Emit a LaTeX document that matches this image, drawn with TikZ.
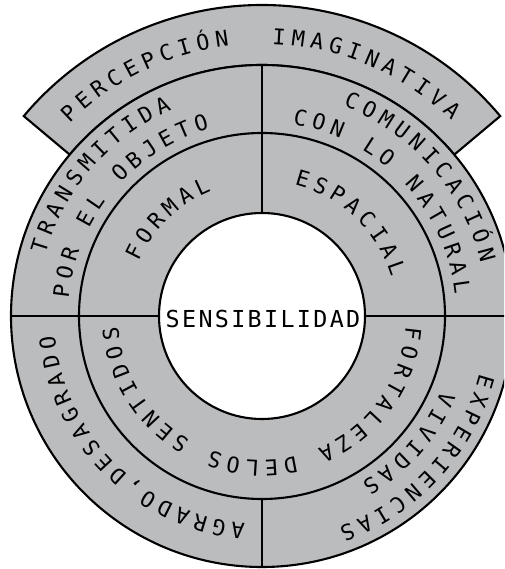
\documentclass[tikz,border=0pt]{standalone}
\usepackage{fontspec}
\newfontfamily\ringfont{DejaVu Sans Mono}
\newfontfamily\centrefont[LetterSpace=10]{DejaVu Sans Mono}
\usepackage{tikz}
\definecolor{ringgray}{HTML}{BBBCBE}

\tikzset{
  ring/.style={fill=ringgray,draw=black,line width=1.2pt},
  divider/.style={draw=black,line width=1.2pt},
  ringchar/.style={font=\ringfont\fontsize{12.4}{13}\selectfont,
                   inner sep=0pt,text height=9pt,text depth=0pt},
  centrelabel/.style={font=\centrefont\fontsize{13.3}{14}\selectfont,
                      inner sep=0pt,text height=9.7pt,text depth=0pt},
}

% letters set clockwise on a circle, tops outward, fixed pitch
\newcommand\ringtext[4]{%
  \pgfmathsetmacro\stepang{0.384/#2*180/pi}%
  \foreach \chr [count=\k from 0] in {#4}
    \node[ringchar,rotate={#3-\k*\stepang-90}] (#1-\k) at ({#3-\k*\stepang}:#2) {\chr};%
}

\begin{document}
\begin{tikzpicture}
  \useasboundingbox (-5.24,-5.06) rectangle (4.84,6.32);
  \fill[white] (-5.24,-5.06) rectangle (4.84,6.32);
  \clip (-5.24,-5.06) rectangle (4.84,6.32);
  % Outer band
  \draw[ring] (40:5.02) arc[start angle=40,end angle=140,radius=5.02]
    -- (140:6.22) arc[start angle=140,end angle=40,radius=6.22] -- cycle;
  % Rings
  \draw[ring] (0,0) circle[radius=5.02];
  \draw[divider] (0,0) circle[radius=3.66];
  \draw[divider,fill=white] (0,0) circle[radius=2.06];
  % Dividers
  \draw[divider] (90:2.06) -- (90:5.02);
  \draw[divider] (180:2.06) -- (180:5.02);
  \draw[divider] (0:2.06) -- (0:5.02);
  \draw[divider] (270:3.66) -- (270:5.02);
  % Centre
  \node[centrelabel] (sens) at (0.02,-0.05) {SENSIBILIDAD};
  % Band text
  \ringtext{perc}{5.6}{133.6}{P,E,R,C,E,P,C,I,Ó,N,{},{},I,M,A,G,I,N,A,T,I,V,A}
  % Outer ring
  \ringtext{trans}{4.66}{162.5}{T,R,A,N,S,M,I,T,I,D,A}
  \ringtext{obj}{4.04}{172.9}{P,O,R,{},E,L,{},O,B,J,E,T,O}
  \ringtext{comu}{4.66}{67.2}{C,O,M,U,N,I,C,A,C,I,Ó,N}
  \ringtext{nat}{4.04}{79.0}{C,O,N,{},L,O,{},N,A,T,U,R,A,L}
  \ringtext{agr}{4.32}{-96.45}{A,G,R,A,D,O,{,},D,E,S,A,G,R,A,D,O}
  \ringtext{exp}{4.66}{-16.45}{E,X,P,E,R,I,E,N,C,I,A,S}
  \ringtext{viv}{4.04}{-24.55}{V,I,V,I,D,A,S}
  % Middle ring
  \ringtext{form}{2.86}{153.3}{F,O,R,M,A,L}
  \ringtext{esp}{2.86}{73.4}{E,S,P,A,C,I,A,L}
  \ringtext{fort}{3.04}{-6.8}{F,O,R,T,A,L,E,Z,A,{},D,E,L,O,S,{},S,E,N,T,I,D,O,S}
\end{tikzpicture}
\end{document}
